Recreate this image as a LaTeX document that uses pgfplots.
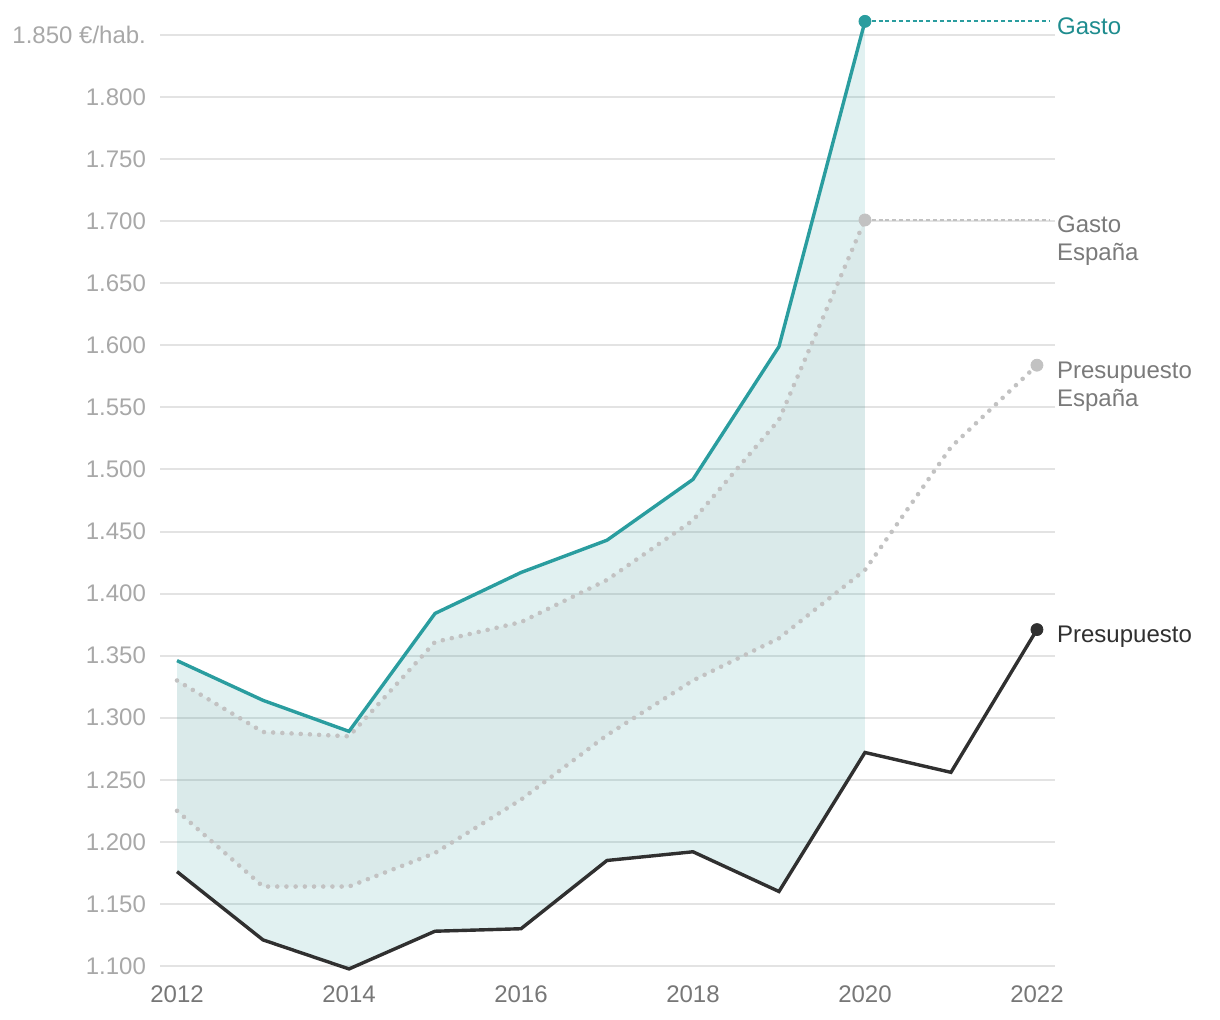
\documentclass[border=0pt]{standalone}
\usepackage{pgfplots}
\pgfplotsset{compat=1.18}
\usepackage{fontspec}
\setmainfont{Liberation Sans}
\definecolor{teal1}{HTML}{2A9D9F}
\definecolor{tealtxt}{HTML}{1E8C8E}
\definecolor{dotgray}{HTML}{C2C2C2}
\definecolor{dark}{HTML}{303030}
\definecolor{gridc}{HTML}{E3E3E3}
\definecolor{ytxt}{HTML}{A8A8A8}
\definecolor{xtxt}{HTML}{777777}
\definecolor{lbl}{HTML}{7A7A7A}
\definecolor{innerc}{HTML}{6E6E6E}
\begin{document}
\begin{tikzpicture}
\useasboundingbox (-80pt,-20.8pt) rectangle (530pt,489.2pt);
\begin{axis}[
  at={(0,0)}, anchor=south west,
  scale only axis, width=447.5pt, height=484.1pt,
  xmin=2011.802, xmax=2022.21, ymin=1090, ymax=1870,
  axis line style={draw=none}, major tick length=0pt,
  xtick={2012,2014,...,2022},
  xticklabels={2012,2014,2016,2018,2020,2022},
  ytick={1100,1150,...,1850},
  yticklabels={1.100,1.150,1.200,1.250,1.300,1.350,1.400,1.450,1.500,1.550,1.600,1.650,1.700,1.750,1.800,{1.850 €/hab.}},
  yticklabel style={font=\fontsize{12}{14}\selectfont, text=ytxt, anchor=east, xshift=-3.5pt},
  xticklabel style={font=\fontsize{12}{14}\selectfont, text=xtxt},
  ymajorgrids, grid style={gridc, line width=1pt},
  clip=false,
]
% outer fill between Gasto and Presupuesto
\addplot[draw=none, fill=teal1, fill opacity=0.14] coordinates {
 (2012,1346)(2013,1314)(2014,1289)(2015,1384)(2016,1417)(2017,1443)(2018,1492)(2019,1599)(2020,1861)
 (2020,1272)(2019,1160)(2018,1192)(2017,1185)(2016,1130)(2015,1128)(2014,1097.6)(2013,1121)(2012,1176)} -- cycle;
% inner fill between the two Spain series
\addplot[draw=none, fill=innerc, fill opacity=0.055] coordinates {
 (2012,1330)(2013,1288.5)(2014,1285)(2015,1361)(2016,1377)(2017,1411)(2018,1459)(2019,1540)(2020,1701)
 (2020,1419)(2019,1364)(2018,1330)(2017,1286)(2016,1234)(2015,1191)(2014,1164)(2013,1164)(2012,1225)} -- cycle;
% Gasto España (dotted)
\addplot[dotgray, line width=2.3pt, line cap=round, dash pattern=on 0pt off 4.6pt] coordinates {
 (2012,1330)(2013,1288.5)(2014,1285)(2015,1361)(2016,1377)(2017,1411)(2018,1459)(2019,1540)(2020,1701)};
% Presupuesto España (dotted)
\addplot[dotgray, line width=2.3pt, line cap=round, dash pattern=on 0pt off 4.6pt] coordinates {
 (2012,1225)(2013,1164)(2014,1164)(2015,1191)(2016,1234)(2017,1286)(2018,1330)(2019,1364)(2020,1419)(2021,1518)(2022,1584)};
% leader lines
\addplot[teal1, line width=0.9pt, dash pattern=on 2pt off 1.4pt] coordinates {(2020,1861)(2022.15,1861)};
\addplot[dotgray, line width=0.9pt, dash pattern=on 2pt off 1.4pt] coordinates {(2020,1701)(2022.15,1701)};
% Gasto
\addplot[teal1, line width=1.7pt] coordinates {
 (2012,1346)(2013,1314)(2014,1289)(2015,1384)(2016,1417)(2017,1443)(2018,1492)(2019,1599)(2020,1861)};
% Presupuesto
\addplot[dark, line width=1.7pt] coordinates {
 (2012,1176)(2013,1121)(2014,1097.6)(2015,1128)(2016,1130)(2017,1185)(2018,1192)(2019,1160)(2020,1272)(2021,1256)(2022,1371)};
% end markers
\addplot[only marks, mark=*, mark size=3pt, teal1] coordinates {(2020,1861)};
\addplot[only marks, mark=*, mark size=3pt, dotgray] coordinates {(2020,1701)(2022,1584)};
\addplot[only marks, mark=*, mark size=3pt, dark] coordinates {(2022,1371)};
% labels
\node[anchor=west, text=tealtxt, font=\fontsize{12}{14}\selectfont, inner sep=0pt] at (axis cs:2022.23,1857) {Gasto};
\node[anchor=west, text=lbl, font=\fontsize{12}{14}\selectfont, align=left, inner sep=0pt] at (axis cs:2022.23,1684) {Gasto\\España};
\node[anchor=west, text=lbl, font=\fontsize{12}{14}\selectfont, align=left, inner sep=0pt] at (axis cs:2022.23,1566.4) {Presupuesto\\España};
\node[anchor=west, text=dark, font=\fontsize{12}{14}\selectfont, inner sep=0pt] at (axis cs:2022.23,1365) {Presupuesto};
\end{axis}
\end{tikzpicture}
\end{document}
